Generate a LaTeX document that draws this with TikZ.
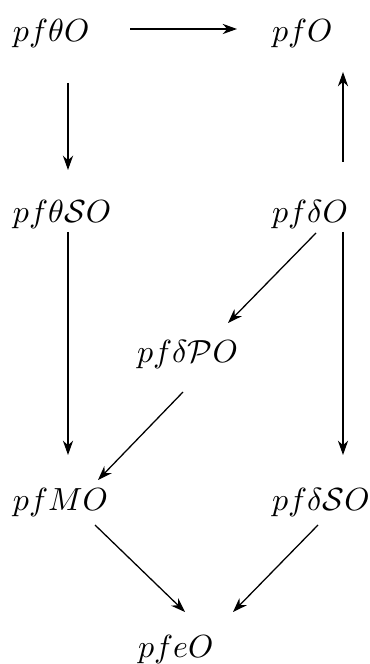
\documentclass[tikz,border=0pt]{standalone}
\usepackage{amsmath}
\usetikzlibrary{arrows.meta}
\begin{document}
\begin{tikzpicture}[x=0.3125pt,y=-0.3125pt,
  obj/.style={anchor=base west,inner sep=0pt,outer sep=0pt,font=\fontsize{10}{12}\selectfont},
  arr/.style={-{Stealth[length=4.5pt,width=3.2pt]},line width=0.4pt}]
\useasboundingbox (0,0) rectangle (369,664);
\node[obj] (a) at (13,42) {$pf\theta O$};
\node[obj] (b) at (272,42) {$pfO$};
\node[obj] (c) at (13,223) {$pf\theta\mathcal{S}O$};
\node[obj] (d) at (272,223) {$pf\delta O$};
\node[obj] (f) at (137,363) {$pf\delta\mathcal{P}O$};
\node[obj] (e) at (13,510) {$pfMO$};
\node[obj] (g) at (272,510) {$pf\delta\mathcal{S}O$};
\node[obj] (h) at (138,657) {$pfeO$};
\draw[arr] ([shift={(117,-13)}]a.base west) -- ([shift={(-35,-13)}]b.base west);
\draw[arr] ([shift={(55,41)}]a.base west) -- ([shift={(55,-53)}]c.base west);
\draw[arr] ([shift={(71,-61)}]d.base west) -- ([shift={(71,30)}]b.base west);
\draw[arr] ([shift={(55,9)}]c.base west) -- ([shift={(55,-55)}]e.base west);
\draw[arr] ([shift={(44,10)}]d.base west) -- ([shift={(91,-40)}]f.base west);
\draw[arr] ([shift={(71,9)}]d.base west) -- ([shift={(71,-55)}]g.base west);
\draw[arr] ([shift={(46,29)}]f.base west) -- ([shift={(85,-30)}]e.base west);
\draw[arr] ([shift={(82,15)}]e.base west) -- ([shift={(47,-45)}]h.base west);
\draw[arr] ([shift={(46,15)}]g.base west) -- ([shift={(95,-45)}]h.base west);
\end{tikzpicture}
\end{document}
